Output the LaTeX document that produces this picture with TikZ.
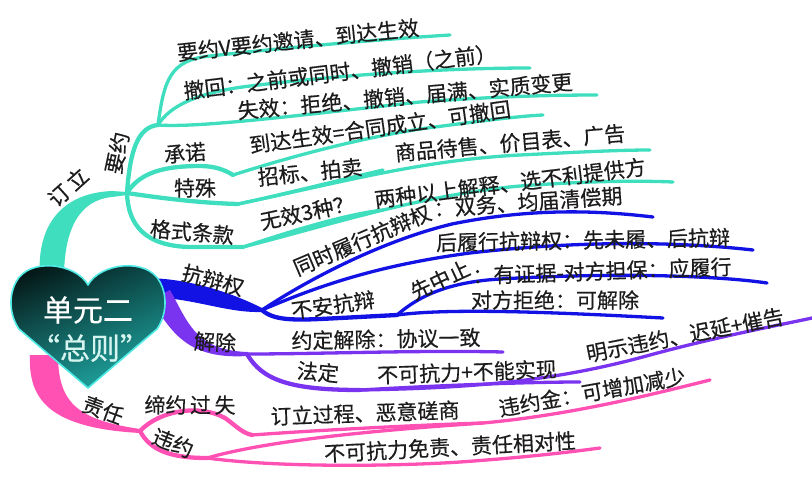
\documentclass[tikz,border=0pt]{standalone}
\usepackage{fontspec}
\setmainfont{Noto Sans CJK SC}[FakeBold=0.4]
\usetikzlibrary{shadings}
\definecolor{cteal}{RGB}{62,222,190}
\definecolor{cblue}{RGB}{18,18,228}
\definecolor{cpurp}{RGB}{122,52,240}
\definecolor{cpink}{RGB}{255,80,180}
\definecolor{txt}{RGB}{28,28,28}
\definecolor{hlite}{RGB}{215,245,240}
\definecolor{hUR}{RGB}{10,70,70}
\definecolor{hLL}{RGB}{25,130,128}
\definecolor{hLR}{RGB}{35,185,178}
\definecolor{hEdge}{RGB}{80,235,230}
\tikzset{
  lbl/.style={font=\fontsize{21}{21}\selectfont, text=txt, inner sep=0pt, anchor=center},
  hlbl/.style={font=\fontsize{30}{30}\selectfont, inner sep=0pt, anchor=center},
  leaf/.style={line width=3.3pt, line cap=round},
  mid/.style={line width=4.3pt, line cap=round},
  tl/.style={leaf, draw=cteal},
  tm/.style={mid, draw=cteal},
  bl/.style={leaf, draw=cblue},
  bm/.style={mid, draw=cblue},
  pl/.style={leaf, draw=cpurp},
  pm/.style={mid, draw=cpurp},
  kl/.style={leaf, draw=cpink},
  km/.style={mid, draw=cpink},
}
\begin{document}
\begin{tikzpicture}[x=1pt,y=-1pt]
\useasboundingbox (0,0) rectangle (812,483);
% junctions and line ends
\coordinate (J1) at (127,193);
\coordinate (J2) at (158,125);
\coordinate (J3) at (233,175);
\coordinate (J4) at (238,204);
\coordinate (J5) at (243,247);
\coordinate (E1) at (450,35);
\coordinate (E2) at (530,68);
\coordinate (E3) at (597,95);
\coordinate (E4) at (543,115);
\coordinate (E5) at (383,170);
\coordinate (E6) at (650,150);
\coordinate (E7) at (383,210);
\coordinate (E8) at (673,182);
\coordinate (JB) at (262,310);
\coordinate (JC) at (397,315);
\coordinate (B1) at (653,217);
\coordinate (B2) at (753,250);
\coordinate (B3) at (767,283);
\coordinate (B4) at (663,318);
\coordinate (JP) at (247,354);
\coordinate (JQ) at (360,390);
\coordinate (P1) at (503,352);
\coordinate (P2) at (580,382);
\coordinate (P3) at (812,318);
\coordinate (JR) at (140,431);
\coordinate (JS) at (252,435);
\coordinate (JT) at (207,458);
\coordinate (K1) at (483,423);
\coordinate (K2) at (710,380);
\coordinate (K3) at (600,448);

% trunks
\fill[cteal] (40,278) .. controls (36,225) and (62,193) .. (112,191) -- (127,192) -- (127,195) -- (112,197) .. controls (80,200) and (64,228) .. (64,278) -- cycle;
\fill[cblue] (148,278) .. controls (190,279) and (230,292) .. (262,308) -- (262,312) .. controls (225,313) and (195,298) .. (148,297) -- cycle;
\fill[cpurp] (170,290) .. controls (188,322) and (195,350) .. (247,352) -- (247,356) .. controls (182,360) and (170,326) .. (150,300) -- cycle;
\fill[cpink] (30,355) .. controls (28,400) and (50,428) .. (140,433) -- (140,429) .. controls (80,420) and (58,405) .. (58,355) -- cycle;

% teal branches
\draw[tm] (J1) .. controls (130,150) and (138,127) .. (J2);
\draw[tl] (J2) .. controls (164,80) and (170,60) .. (210,56) .. controls (300,46) and (400,38) .. (E1);
\draw[tl] (J2) .. controls (170,105) and (200,92) .. (250,86) .. controls (350,74) and (450,68) .. (E2);
\draw[tl] (J2) .. controls (200,128) and (300,115) .. (420,102) .. controls (500,96) and (560,95) .. (E3);
\draw[tm] (J1) .. controls (140,172) and (165,166) .. (200,166) .. controls (215,166) and (225,170) .. (J3);
\draw[tl] (J3) .. controls (280,160) and (350,140) .. (420,129) .. controls (480,121) and (520,116) .. (E4);
\draw[tm] (J1) .. controls (160,198) and (200,203) .. (J4);
\draw[tl] (J4) .. controls (280,195) and (340,180) .. (E5);
\draw[tl] (J4) .. controls (330,185) and (420,160) .. (520,155) .. controls (580,152) and (620,150) .. (E6);
\draw[tm] (J1) .. controls (128,225) and (145,246) .. (190,247) -- (J5);
\draw[tl] (J5) .. controls (280,235) and (340,215) .. (E7);
\draw[tl] (J5) .. controls (330,225) and (420,195) .. (520,186) .. controls (600,180) and (650,181) .. (E8);

% blue branches
\draw[bl] (JB) .. controls (312,277) and (385,240) .. (452,224) .. controls (540,206) and (610,212) .. (B1);
\draw[bl] (JB) .. controls (320,285) and (380,265) .. (470,253) .. controls (600,238) and (700,244) .. (B2);
\draw[bm] (JB) .. controls (275,322) and (300,320) .. (340,318) -- (JC);
\draw[bl] (JC) .. controls (420,295) and (450,282) .. (500,279) .. controls (620,272) and (720,276) .. (B3);
\draw[bl] (JC) .. controls (450,308) and (550,312) .. (B4);

% purple branches
\draw[pl] (JP) .. controls (320,354) and (420,350) .. (P1);
\draw[pm] (JP) .. controls (262,380) and (290,390) .. (JQ);
\draw[pl] (JQ) .. controls (430,386) and (520,382) .. (P2);
\draw[pl] (JQ) .. controls (480,388) and (560,380) .. (650,355) .. controls (720,336) and (780,325) .. (P3);

% pink branches
\draw[km] (JR) .. controls (160,410) and (200,404) .. (225,418) .. controls (235,425) and (242,433) .. (JS);
\draw[kl] (JS) .. controls (320,430) and (420,425) .. (K1);
\draw[km] (JR) .. controls (150,450) and (170,458) .. (JT);
\draw[kl] (JT) .. controls (270,440) and (380,430) .. (483,423) .. controls (570,415) and (650,395) .. (K2);
\draw[kl] (JT) .. controls (280,468) and (400,466) .. (460,462) .. controls (530,457) and (570,452) .. (K3);

% heart
\shade[upper left=black, upper right=hUR, lower left=hLL, lower right=hLR]
  (88,285) .. controls (100,263) and (147,257) .. (160,282) .. controls (168,297) and (166,316) .. (157,329) -- (88,388) -- (19,329) .. controls (10,316) and (8,297) .. (16,282) .. controls (29,257) and (76,263) .. (88,285) -- cycle;
\draw[draw=hEdge, line width=1.6pt, line join=round]
  (88,285) .. controls (100,263) and (147,257) .. (160,282) .. controls (168,297) and (166,316) .. (157,329) -- (88,388) -- (19,329) .. controls (10,316) and (8,297) .. (16,282) .. controls (29,257) and (76,263) .. (88,285) -- cycle;
\node[hlbl, text=white] (h1) at (88,310) {单元二};
\node[hlbl, text=hlite] (h2) at (90,348) {“总则”};

% teal labels
\node[lbl, rotate=42] (t12) at (68,187) {订\,立};
\node[lbl, rotate=78] (t13) at (117,153) {要约};
\node[lbl, rotate=6] (t1) at (298,40) {要约V要约邀请、到达生效};
\node[lbl, rotate=7] (t2) at (340,72) {撤回：之前或同时、撤销（之前）};
\node[lbl, rotate=5] (t3) at (405,96) {失效：拒绝、撤销、届满、实质变更};
\node[lbl, rotate=8] (t4) at (380,127) {到达生效=合同成立、可撤回};
\node[lbl, rotate=5] (t5) at (185,153) {承诺};
\node[lbl] (t6) at (195,188) {特殊};
\node[lbl, rotate=-5] (t7) at (192,232) {格式条款};
\node[lbl, rotate=6] (t8) at (310,172) {招标、拍卖};
\node[lbl, rotate=5] (t9) at (510,143) {商品待售、价目表、广告};
\node[lbl, rotate=12] (t10) at (307,212) {无效3种？};
\node[lbl, rotate=7] (t11) at (510,183) {两种以上解释、选不利提供方};

% blue labels
\node[lbl, rotate=-15] (b1) at (213,280) {抗辩权};
\node[lbl, rotate=23] (b2) at (362,240) {同时履行抗辩权};
\node[lbl, rotate=4] (b3) at (528,202) {：双务、均届清偿期};
\node[lbl, rotate=1] (b4) at (583,240) {后履行抗辩权：先未履、后抗辩};
\node[lbl, rotate=8] (b5) at (333,305) {不安抗辩};
\node[lbl, rotate=25] (b6) at (440,280) {先中止};
\node[lbl, rotate=2] (b7) at (602,271) {：有证据-对方担保：应履行};
\node[lbl] (b8) at (555,300) {对方拒绝：可解除};

% purple labels
\node[lbl, rotate=-3] (p1) at (215,342) {解除};
\node[lbl, rotate=1] (p2) at (386,339) {约定解除：协议一致};
\node[lbl, rotate=-5] (p3) at (318,372) {法定};
\node[lbl, rotate=2] (p4) at (467,372) {不可抗力+不能实现};
\node[lbl, rotate=11] (p5) at (685,335) {明示违约、迟延+催告};

% pink labels
\node[lbl, rotate=-20] (k1) at (103,410) {责任};
\node[lbl] (k2) at (190,405) {缔约\,过\,失};
\node[lbl, rotate=-22] (k3) at (173,443) {违约};
\node[lbl, rotate=2] (k4) at (365,413) {订立过程、恶意磋商};
\node[lbl, rotate=10] (k5) at (592,392) {违约金：可增加减少};
\node[lbl, rotate=3] (k6) at (450,447) {不可抗力免责、责任相对性};
\end{tikzpicture}
\end{document}
